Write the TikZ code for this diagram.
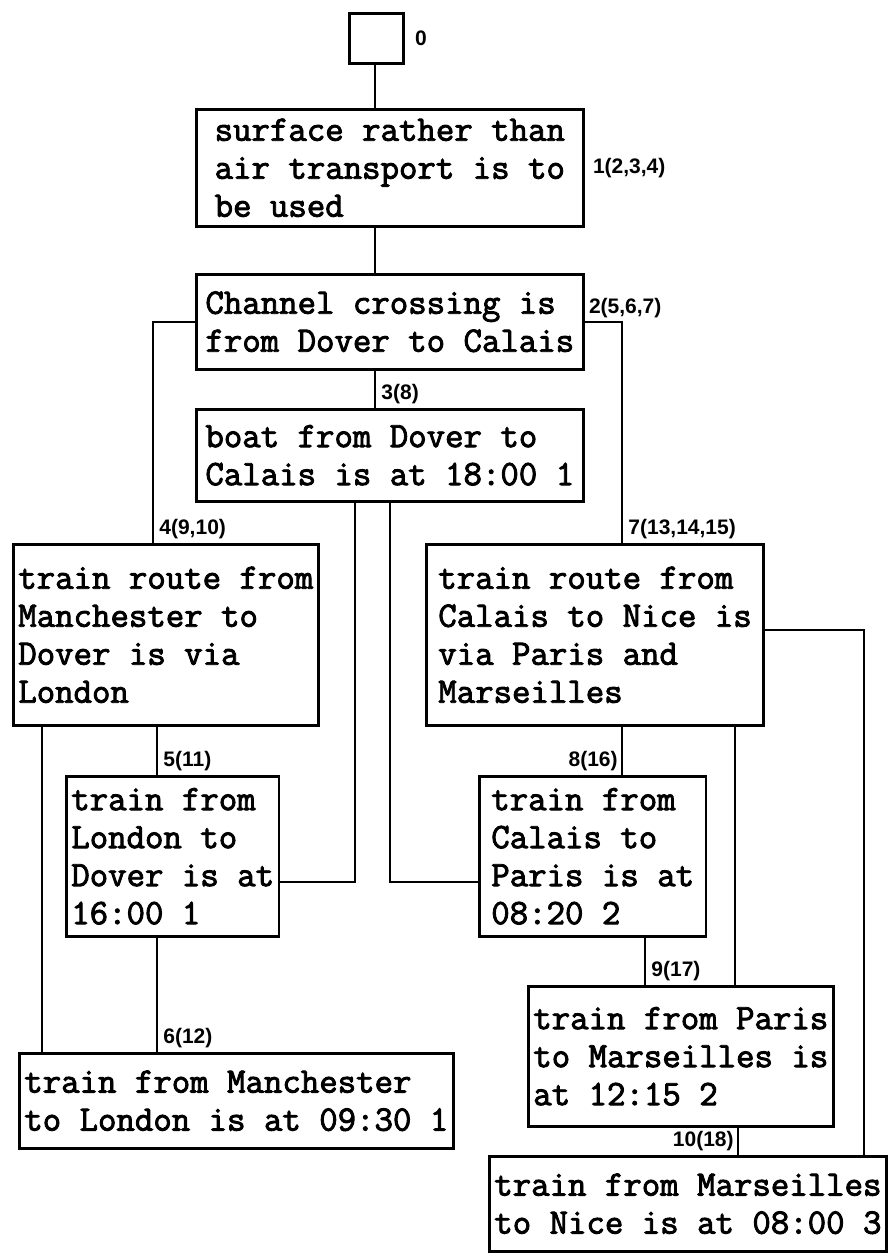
\documentclass[tikz,border=0pt]{standalone}
\usepackage{fontspec}
\newfontfamily\labfont{Liberation Sans}
\newfontfamily\boxfont{Latin Modern Mono}[FakeBold=2.5]
\tikzset{
  box/.style={draw, line width=1.3pt, anchor=north west, align=left,
    inner xsep=2.5pt, inner ysep=2pt,
    font=\boxfont\fontsize{17.9}{19}\selectfont},
  wbox/.style={box, inner xsep=6pt},
  lab/.style={font=\labfont\bfseries\fontsize{10.5}{12}\selectfont, inner sep=1pt},
  conn/.style={line width=1.2pt}
}
\begin{document}
\begin{tikzpicture}[x=0.5pt,y=-0.5pt]
\useasboundingbox (0,0) rectangle (894,1258);
% column / row coordinates
\coordinate (x42) at (42,0);
\coordinate (x153) at (153,0);
\coordinate (x157) at (157,0);
\coordinate (x355) at (355,0);
\coordinate (x375) at (375,0);
\coordinate (x390) at (390,0);
\coordinate (x622) at (622,0);
\coordinate (x645) at (645,0);
\coordinate (x735) at (735,0);
\coordinate (x738) at (738,0);
\coordinate (x864) at (864,0);
\coordinate (y630) at (0,630);
\coordinate (y882) at (0,882);
% boxes
\node[box, minimum width=27pt, minimum height=25pt] (b0) at (348,12) {};
\node[box, minimum width=193.5pt, minimum height=58.5pt] (b1) at (195,108)
  {surface rather than\\air transport is to\\be used};
\node[box, minimum width=193.5pt, minimum height=47.5pt] (b2) at (195,273)
  {Channel crossing is\\from Dover to Calais};
\node[box, minimum width=193.5pt, minimum height=46pt] (b3) at (195,408)
  {boat from Dover to\\Calais is at 18:00 1};
\node[box, minimum height=90.5pt] (b4) at (12,543)
  {train route from\\Manchester to\\Dover is via\\London};
\node[wbox, minimum height=90.5pt] (b7) at (425,543)
  {train route from\\Calais to Nice is\\via Paris and\\Marseilles};
\node[box, minimum height=80pt] (b5) at (65,775)
  {train from\\London to\\Dover is at\\16:00 1};
\node[wbox, minimum height=80pt] (b8) at (478,775)
  {train from\\Calais to\\Paris is at\\08:20 2};
\node[box, minimum height=70pt] (b9) at (527,985)
  {train from Paris\\to Marseilles is\\at 12:15 2};
\node[box, minimum height=47.5pt] (b6) at (18,1052)
  {train from Manchester\\to London is at 09:30 1};
\node[box, minimum height=47.5pt] (b10) at (488,1155)
  {train from Marseilles\\to Nice is at 08:00 3};
% labels
\node[lab, anchor=west, xshift=4pt] (l0) at (b0.east) {0};
\node[lab, anchor=west, xshift=3pt] (l1) at (b1.east) {1(2,3,4)};
\node[lab, anchor=south west, xshift=1pt, yshift=1pt] (l2) at (b2.east) {2(5,6,7)};
\node[lab, anchor=south west, xshift=2pt, yshift=1pt] (l3) at (x375 |- b3.north) {3(8)};
\node[lab, anchor=south west, xshift=2pt, yshift=1pt] (l4) at (x153 |- b4.north) {4(9,10)};
\node[lab, anchor=south west, xshift=2pt, yshift=1pt] (l7) at (x622 |- b7.north) {7(13,14,15)};
\node[lab, anchor=south west, xshift=2pt, yshift=1pt] (l5) at (x157 |- b5.north) {5(11)};
\node[lab, anchor=south east, xshift=-1pt, yshift=1pt] (l8) at (x622 |- b8.north) {8(16)};
\node[lab, anchor=south west, xshift=2pt, yshift=1pt] (l6) at (x157 |- b6.north) {6(12)};
\node[lab, anchor=south west, xshift=2pt, yshift=1pt] (l9) at (x645 |- b9.north) {9(17)};
\node[lab, anchor=south east, xshift=-1pt, yshift=1pt] (l10) at (x738 |- b10.north) {10(18)};
% connectors
\draw[conn] (x375 |- b0.south) -- (x375 |- b1.north);
\draw[conn] (x375 |- b1.south) -- (x375 |- b2.north);
\draw[conn] (x375 |- b2.south) -- (x375 |- b3.north);
\draw[conn] (b2.west) -| (x153 |- b4.north);
\draw[conn] (b2.east) -| (x622 |- b7.north);
\draw[conn] (x157 |- b4.south) -- (x157 |- b5.north);
\draw[conn] (x42 |- b4.south) -- (x42 |- b6.north);
\draw[conn] (x157 |- b5.south) -- (x157 |- b6.north);
\draw[conn] (x355 |- b3.south) |- (b5.east |- y882);
\draw[conn] (x390 |- b3.south) |- (b8.west |- y882);
\draw[conn] (x622 |- b7.south) -- (x622 |- b8.north);
\draw[conn] (x735 |- b7.south) -- (x735 |- b9.north);
\draw[conn] (b7.east |- y630) -| (x864 |- b10.north);
\draw[conn] (x645 |- b8.south) -- (x645 |- b9.north);
\draw[conn] (x738 |- b9.south) -- (x738 |- b10.north);
\end{tikzpicture}
\end{document}
